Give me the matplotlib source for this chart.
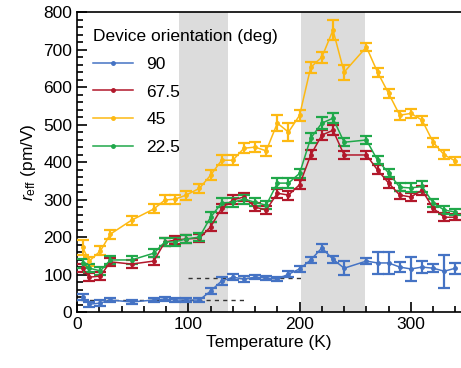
import numpy as np
import matplotlib.pyplot as plt
from matplotlib.ticker import MultipleLocator

plt.rcParams['font.family'] = ['Liberation Sans', 'DejaVu Sans']
plt.rcParams['mathtext.fontset'] = 'custom'
plt.rcParams['mathtext.rm'] = 'Liberation Sans'
plt.rcParams['mathtext.it'] = 'Liberation Sans:italic'

# temperature (K)
temp = [5, 11, 21, 30, 49, 69, 79, 88, 98, 110, 120, 130, 140, 150, 160, 170,
        180, 190, 200, 210, 220, 230, 240, 260, 270, 280, 290, 300, 310, 320, 330, 340]

# r_eff (pm/V) for each device orientation
r_90 = [40, 21, 24, 32, 27, 32, 35, 32, 32, 32, 56, 83, 93, 88, 93, 91,
        88, 101, 115, 139, 171, 141, 117, 136, 131, 131, 120, 115, 120, 117, 109, 117]
r_675 = [117, 93, 96, 134, 128, 136, 187, 192, 195, 197, 227, 277, 299, 307, 280, 272,
         317, 312, 340, 419, 472, 485, 419, 419, 379, 344, 312, 307, 325, 277, 253, 253]
r_45 = [173, 136, 163, 208, 245, 275, 299, 301, 312, 330, 365, 405, 405, 437, 440, 430,
        504, 480, 525, 653, 680, 752, 640, 707, 640, 583, 525, 530, 512, 453, 419, 403]
r_225 = [130, 117, 110, 139, 139, 157, 187, 187, 195, 200, 253, 291, 293, 301, 293, 285,
         344, 344, 370, 464, 504, 517, 453, 459, 405, 371, 333, 331, 335, 291, 272, 267]

# error bars
e_90 = [9, 7, 7, 6, 6, 6, 6, 6, 6, 6, 8, 10, 8, 8, 6, 6,
        6, 8, 8, 8, 10, 9, 19, 9, 29, 29, 13, 32, 15, 10, 44, 15]
e_675 = [10, 10, 10, 10, 10, 10, 10, 10, 10, 10, 12, 12, 12, 10, 10, 10,
         12, 12, 12, 12, 14, 14, 10, 10, 12, 12, 10, 10, 12, 10, 10, 8]
e_45 = [20, 12, 12, 12, 12, 12, 12, 12, 12, 12, 14, 14, 14, 14, 14, 14,
        22, 24, 15, 15, 15, 27, 20, 11, 12, 12, 12, 12, 12, 12, 12, 10]
e_225 = [12, 10, 10, 10, 10, 10, 10, 10, 10, 10, 14, 12, 12, 12, 10, 10,
         14, 14, 12, 14, 16, 14, 10, 10, 10, 10, 10, 12, 14, 10, 10, 8]

series = [("90", r_90, e_90, '#4573c4'),
          ("67.5", r_675, e_675, '#b2182b'),
          ("45", r_45, e_45, '#fdb913'),
          ("22.5", r_225, e_225, '#20a84a')]

# shaded transition regions and guide lines
spans = [(92, 136), (201, 259)]
guides = [((4, 151), 32), ((100, 203), 91)]

fig = plt.figure(figsize=(4.61, 3.68), dpi=100)
ax = fig.add_axes([0.167, 0.152, 0.833, 0.815])

for lo, hi in spans:
    ax.axvspan(lo, hi, color='#dcdcdc', lw=0, zorder=0)
for (x0, x1), yv in guides:
    ax.plot([x0, x1], [yv, yv], ls=(0, (3, 3)), color='#333333', lw=1, zorder=1)

for name, vals, errs, col in series:
    ax.errorbar(temp, vals, yerr=errs, color=col, lw=1.1, elinewidth=1.6,
                capsize=4.5, capthick=1.6, marker='o', ms=2.5, label=name, zorder=3)

ax.set_xlim(0, 345)
ax.set_ylim(0, 800)
ax.xaxis.set_major_locator(MultipleLocator(100))
ax.xaxis.set_minor_locator(MultipleLocator(20))
ax.yaxis.set_major_locator(MultipleLocator(100))
ax.yaxis.set_minor_locator(MultipleLocator(20))
ax.tick_params(which='both', direction='in', labelsize=12.5, width=1.2)
ax.tick_params(which='major', length=7)
ax.tick_params(which='minor', length=4)
ax.spines['right'].set_visible(False)
for s in ['left', 'bottom', 'top']:
    ax.spines[s].set_linewidth(1.2)

ax.set_xlabel("Temperature (K)", fontsize=12.5, labelpad=2)
ax.set_ylabel(r"$r_\mathrm{eff}$ (pm/V)", fontsize=12.5, labelpad=4)

handles, labels = ax.get_legend_handles_labels()
handles = [h[0] for h in handles]
ax.legend(handles, labels, title="Device orientation (deg)", loc='upper left',
          bbox_to_anchor=(0.0, 0.995), frameon=False, fontsize=12.5,
          title_fontsize=12.5, alignment='left', handlelength=2.3, labelspacing=0.72)

plt.savefig("out.png", dpi=100)
